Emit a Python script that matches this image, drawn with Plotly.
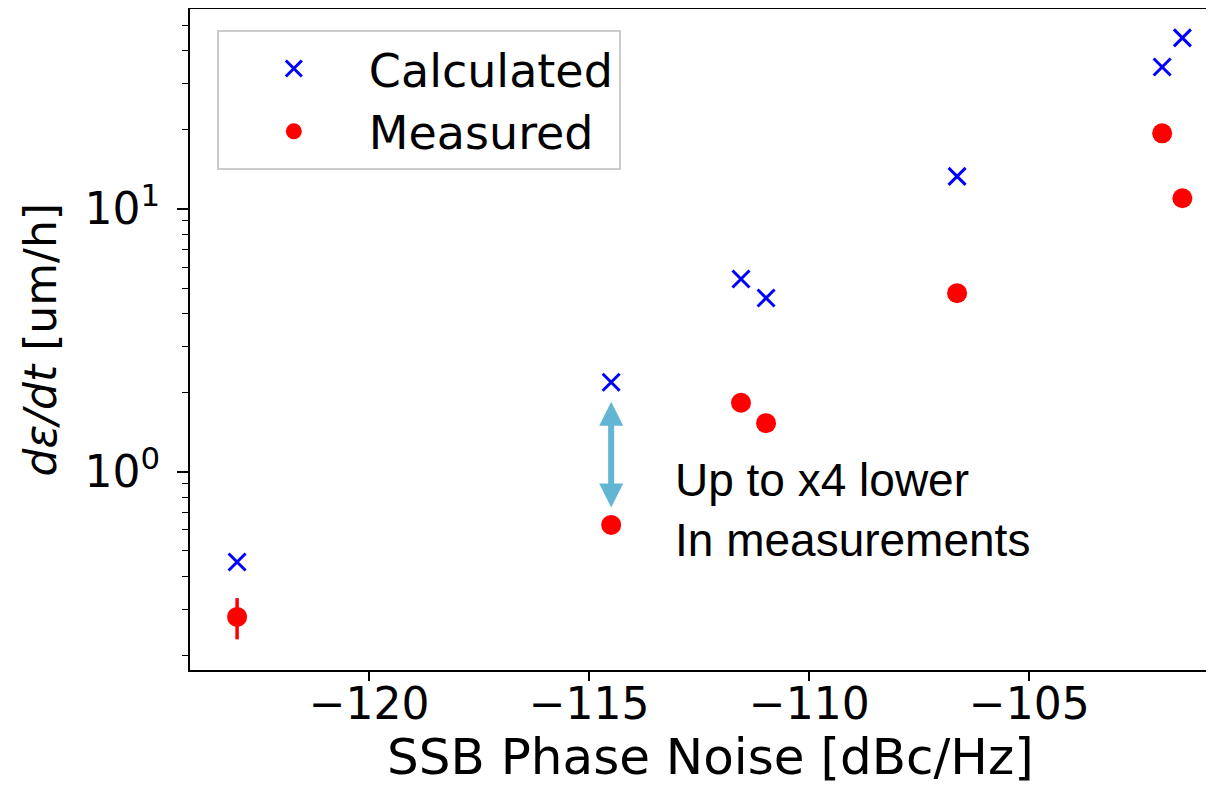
import plotly.graph_objects as go

# Data
calc_x = [-123.0, -114.5, -111.55, -110.98, -106.64, -101.98, -101.52]
calc_y = [0.453, 2.19, 5.41, 4.58, 13.3, 34.7, 44.8]

meas_x = [-123.0, -114.5, -111.55, -110.98, -106.64, -101.98, -101.52]
meas_y = [0.280, 0.627, 1.83, 1.53, 4.78, 19.4, 10.98]
meas_err = [0.05, 0.02, 0.0, 0.0, 0.0, 0.0, 0.0]

x_ticks = [-120, -115, -110, -105]
y_ticks = [1, 10]
y_ticktext = ["10<sup>0</sup>", "10<sup>1</sup>"]
y_minor = [0.2, 0.3, 0.4, 0.5, 0.6, 0.7, 0.8, 0.9, 2, 3, 4, 5, 6, 7, 8, 9, 20, 30, 40, 50]

arrow_x = -114.5
arrow_top = 0.2665   # log10 units
arrow_bot = -0.142   # log10 units

x_title = "SSB Phase Noise [dBc/Hz]"
y_title = "<i>dε/dt</i> [um/h]"
note = "Up to x4 lower<br>In measurements"

FONT = "DejaVu Sans"

fig = go.Figure()
fig.add_trace(go.Scatter(
    x=calc_x, y=calc_y, mode="markers", name="Calculated",
    marker=dict(symbol="x-thin", size=17, line=dict(color="#0000ff", width=3), color="#0000ff"),
))
fig.add_trace(go.Scatter(
    x=meas_x, y=meas_y, mode="markers", name="Measured",
    marker=dict(symbol="circle", size=20, color="#ff0000"),
    error_y=dict(type="data", array=meas_err, color="#ff0000", thickness=3.5, width=0),
))

fig.add_annotation(
    x=arrow_x, y=arrow_top, ax=arrow_x, ay=arrow_bot,
    xref="x", yref="y", axref="x", ayref="y",
    showarrow=True, arrowhead=2, startarrowhead=2, arrowside="end+start",
    arrowwidth=6, arrowsize=0.8, startarrowsize=0.8, arrowcolor="#62b6d3", text="",
)
fig.add_annotation(
    x=-113.1, y=-0.146, xref="x", yref="y", xanchor="left", yanchor="middle",
    text=note, showarrow=False, align="left",
    font=dict(family="Liberation Sans, Arial", size=46, color="black"),
)
# axis titles
fig.add_annotation(
    x=0.504, y=-0.1316, xref="paper", yref="paper",
    xanchor="center", yanchor="middle", text=x_title, showarrow=False,
    font=dict(family=FONT, size=50, color="black"),
)
fig.add_annotation(
    x=-0.1453, y=0.5, xref="paper", yref="paper",
    xanchor="center", yanchor="middle", text=y_title, showarrow=False, textangle=-90,
    font=dict(family=FONT, size=44, color="black"),
)

fig.update_layout(
    width=1214, height=786,
    margin=dict(l=182, r=0, t=1, b=124, autoexpand=False),
    paper_bgcolor="white", plot_bgcolor="white",
    showlegend=True,
    legend=dict(
        x=0.026, y=0.968, xanchor="left", yanchor="top",
        bgcolor="white", bordercolor="#cccccc", borderwidth=2,
        font=dict(family=FONT, size=46, color="black"),
        itemwidth=140, tracegroupgap=0,
    ),
)
fig.update_xaxes(
    range=[-124.07, -100.62], tickvals=x_ticks, automargin=False,
    showline=True, linecolor="black", linewidth=2, mirror=True,
    ticks="outside", ticklen=9, tickwidth=1.5, tickcolor="black",
    showgrid=False, zeroline=False,
    tickfont=dict(family=FONT, size=44, color="black"),
    ticklabelstandoff=-15,
)
fig.update_yaxes(
    type="log", range=[-0.755, 1.761], tickvals=y_ticks, ticktext=y_ticktext, automargin=False,
    showline=True, linecolor="black", linewidth=2, mirror=False,
    ticks="outside", ticklen=11, tickwidth=1.5, tickcolor="black",
    minor=dict(tickvals=y_minor, ticks="outside", ticklen=6, tickwidth=1.2, tickcolor="black", showgrid=False),
    showgrid=False, zeroline=False,
    tickfont=dict(family=FONT, size=44, color="black"),
    ticklabelstandoff=8,
)

fig.write_html("out.html")
